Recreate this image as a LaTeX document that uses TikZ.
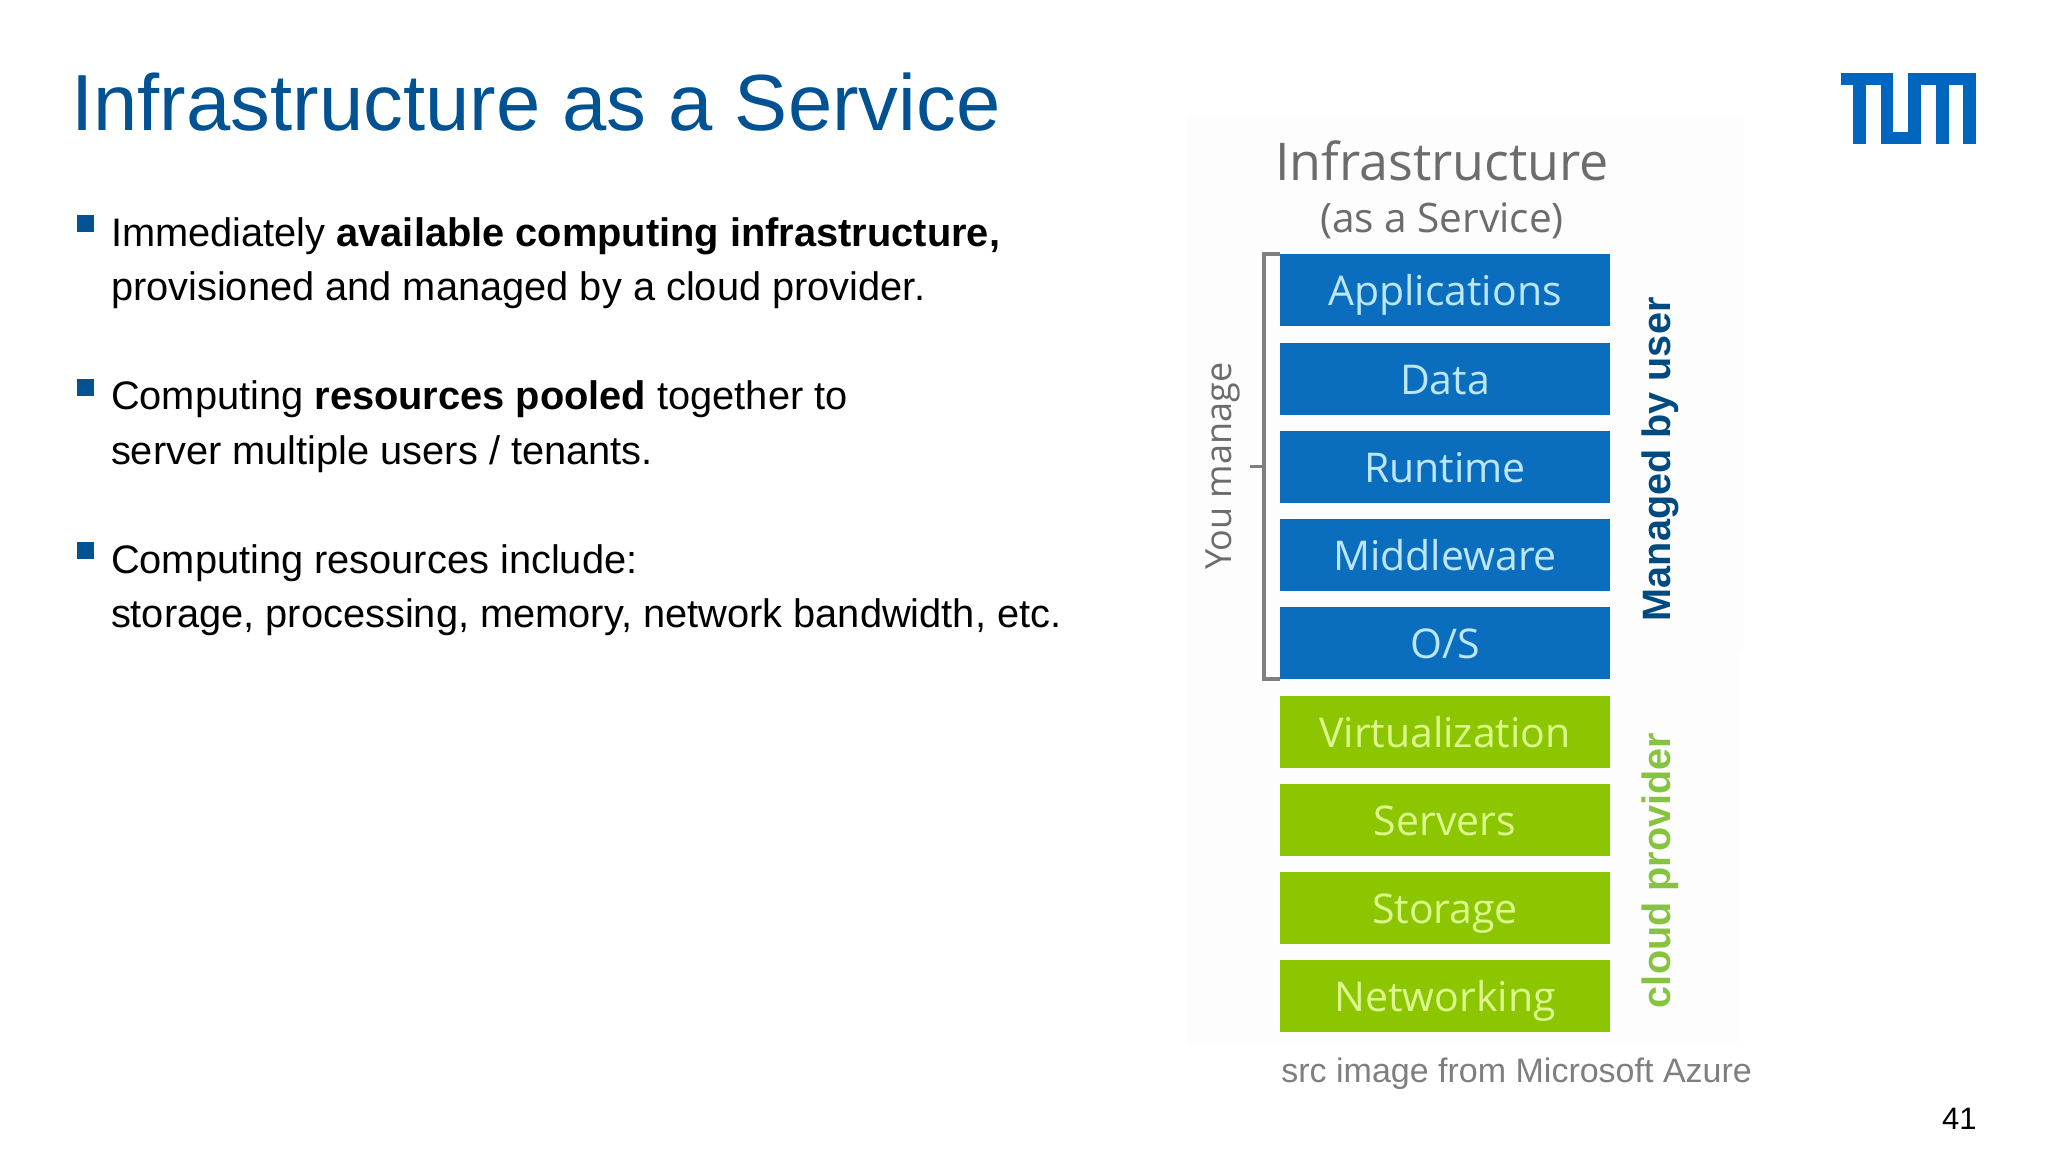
\documentclass[tikz,border=0pt]{standalone}
\usepackage{fontspec}
\usetikzlibrary{calc}
\setmainfont{Liberation Sans}
\newfontfamily\azure{Open Sans}
\newfontfamily\slide{Liberation Sans}
\definecolor{tumtitle}{HTML}{005293}
\definecolor{tumlogo}{HTML}{0065BD}
\definecolor{stackblue}{HTML}{0A6DBE}
\definecolor{stackgreen}{HTML}{8CC600}
\definecolor{bluetext}{HTML}{BDE6F7}
\definecolor{greentext}{HTML}{DDF78F}
\definecolor{userblue}{HTML}{004A80}
\definecolor{provgreen}{HTML}{86C440}
\definecolor{srcgray}{HTML}{7F7F7F}
\definecolor{headgray}{HTML}{6C6C6C}
\definecolor{paper}{HTML}{FDFDFD}
\newcommand{\fs}[1]{\fontsize{#1}{#1}\selectfont}
\tikzset{
  x=0.5pt,y=-0.5pt,
  txt/.style={anchor=base west,inner sep=0pt,outer sep=0pt,text=black,font=\fs{19.9}},
  bulletbox/.style={fill=tumtitle,draw=none},
  layer/.style={minimum width=165pt,minimum height=36pt,text height=19.5pt,text depth=4pt,inner sep=0pt,outer sep=0pt,anchor=north west,font=\azure\fs{20.5}},
  bluelayer/.style={layer,fill=stackblue,text=bluetext},
  greenlayer/.style={layer,fill=stackgreen,text=greentext},
  side/.style={anchor=base west,rotate=90,inner sep=0pt,outer sep=0pt,font=\slide\bfseries\fs{19.8}},
  brace/.style={draw=srcgray,line width=1.8pt},
  logobar/.style={fill=tumlogo,draw=none},
}
\begin{document}
\begin{tikzpicture}
\useasboundingbox (0,0) rectangle (2048,1152);
\fill[white] (0,0) rectangle (2048,1152);
% faint backdrop of the pasted picture
\fill[paper] (1186,115) rectangle (1744,652);
\fill[paper] (1186,652) rectangle (1738,1045);
% title
\node[anchor=base west,inner sep=0pt,text=tumtitle,font=\fs{39.8}] (title) at (71,130) {Infrastructure as a Service};
% bullets
\fill[bulletbox] (77,215) rectangle (94,232);
\fill[bulletbox] (77,379) rectangle (94,396);
\fill[bulletbox] (77,542) rectangle (94,559);
\node[txt] (l1) at (111,246) {Immediately \textbf{available computing infrastructure,}};
\node[txt] (l2) at (111,300) {provisioned and managed by a cloud provider.};
\node[txt] (l3) at (111,409) {Computing \textbf{resources pooled} together to};
\node[txt] (l4) at (111,464) {server multiple users / tenants.};
\node[txt] (l5) at (111,573) {Computing resources include:};
\node[txt] (l6) at (111,627) {storage, processing, memory, network bandwidth, etc.};
% stack header
\node[anchor=base,inner sep=0pt,text=headgray,font=\azure\fs{26}] (h1) at (1442,180) {Infrastructure};
\node[anchor=base,inner sep=0pt,text=headgray,font=\azure\fs{20.3}] (h2) at (1442,232) {(as a Service)};
% layers
\node[bluelayer] (apps) at (1280,254) {Applications};
\node[bluelayer] (data) at (1280,343) {Data};
\node[bluelayer] (run) at (1280,431) {Runtime};
\node[bluelayer] (mid) at (1280,519) {Middleware};
\node[bluelayer] (os) at (1280,607) {O/S};
\node[greenlayer] (virt) at (1280,696) {Virtualization};
\node[greenlayer] (serv) at (1280,784) {Servers};
\node[greenlayer] (stor) at (1280,872) {Storage};
\node[greenlayer] (net) at (1280,960) {Networking};
% bracket
\coordinate (bt) at ([xshift=-8pt]apps.north west);
\coordinate (bb) at ([xshift=-8pt]os.south west);
\coordinate (bm) at ($(bt)!0.5!(bb)$);
\draw[brace] (apps.north west) -- (bt) -- (bb) -- (os.south west);
\draw[brace] (bm) -- ++(-14,0);
\node[side,text=headgray,font=\azure\fs{18},anchor=base] (you) at (1231,466) {You manage};
% side labels
\node[side,text=userblue] (user) at (1670,621) {Managed by user};
\node[side,text=provgreen] (prov) at (1670,1008) {cloud provider};
% caption and page number
\node[anchor=base west,inner sep=0pt,text=srcgray,font=\fs{17}] (src) at (1281,1082) {src image from Microsoft Azure};
\node[anchor=base east,inner sep=0pt,text=black,font=\fs{15.5}] (page) at (1977,1129) {41};
% logo
\fill[logobar] (1841,73) rectangle (1893,85);
\fill[logobar] (1853,73) rectangle (1866,144);
\fill[logobar] (1881,73) rectangle (1893,144);
\fill[logobar] (1881,132) rectangle (1921,144);
\fill[logobar] (1908,73) rectangle (1921,144);
\fill[logobar] (1908,73) rectangle (1976,85);
\fill[logobar] (1936,73) rectangle (1949,144);
\fill[logobar] (1963,73) rectangle (1976,144);
\end{tikzpicture}
\end{document}
